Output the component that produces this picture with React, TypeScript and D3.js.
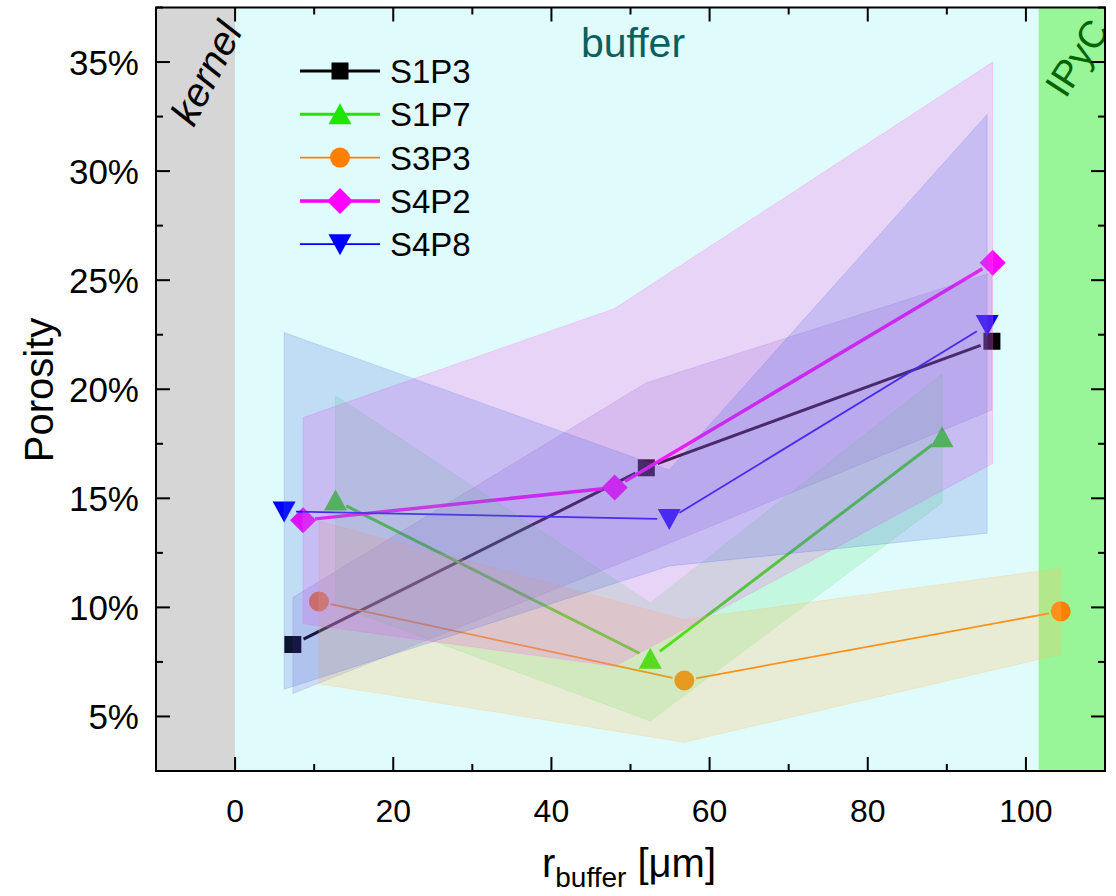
import React from 'react';
import * as d3 from 'd3';

const W = 1116;
const H = 896;
const FONT = "'Liberation Sans', Arial, Helvetica, sans-serif";

// axis domains and ticks
const xDomain = [-10, 110];
const yDomain = [2.5, 37.5];
const xMajorTicks = [0, 20, 40, 60, 80, 100];
const xMinorTicks = [-10, 10, 30, 50, 70, 90, 110];
const yMajorTicks = [5, 10, 15, 20, 25, 30, 35];
const yMinorTicks = [2.5, 7.5, 12.5, 17.5, 22.5, 27.5, 32.5, 37.5];

// regions (µm)
const regionNames = ['kernel', 'buffer', 'IPyC'];
const regionStart = [-10, 0, 101.6];
const regionEnd = [0, 101.6, 110];

// series
const seriesNames = ['S1P3', 'S1P7', 'S3P3', 'S4P2', 'S4P8'];

const s1p3X = [7.3, 52.0, 95.7];
const s1p3Y = [8.3, 16.4, 22.2];
const s1p3Upper = [10.45, 20.3, 25.35];
const s1p3Lower = [6.05, 12.5, 19.05];

const s1p7X = [12.7, 52.5, 89.4];
const s1p7Y = [14.9, 7.65, 17.8];
const s1p7Upper = [19.7, 10.2, 20.7];
const s1p7Lower = [10.1, 4.8, 14.8];

const s3p3X = [10.6, 56.8, 104.4];
const s3p3Y = [10.27, 6.65, 9.82];
const s3p3Upper = [13.95, 9.45, 11.8];
const s3p3Lower = [6.5, 3.82, 7.85];

const s4p2X = [8.6, 48.0, 95.8];
const s4p2Y = [14.0, 15.5, 25.8];
const s4p2Upper = [18.7, 23.7, 35.0];
const s4p2Lower = [9.25, 7.3, 16.6];

const s4p8X = [6.2, 54.9, 95.1];
const s4p8Y = [14.4, 14.05, 22.95];
const s4p8Upper = [22.6, 16.3, 32.6];
const s4p8Lower = [6.25, 11.9, 13.4];

const seriesColors = ['#000000', '#1ee600', '#ff8000', '#ff00ff', '#0000ff'];
const lineWidths = [3, 3, 1.8, 3.5, 1.8];
const markerKinds = ['square', 'triangleUp', 'circle', 'diamond', 'triangleDown'];
const bandFills = ['rgb(80,30,190)', 'rgb(20,230,60)', 'rgb(255,190,100)', 'rgb(255,100,235)', 'rgb(70,100,225)'];
const bandOpacity = [0.14, 0.14, 0.25, 0.26, 0.2];

const seriesX = [s1p3X, s1p7X, s3p3X, s4p2X, s4p8X];
const seriesY = [s1p3Y, s1p7Y, s3p3Y, s4p2Y, s4p8Y];
const seriesUpper = [s1p3Upper, s1p7Upper, s3p3Upper, s4p2Upper, s4p8Upper];
const seriesLower = [s1p3Lower, s1p7Lower, s3p3Lower, s4p2Lower, s4p8Lower];

const PL = 156, PR = 1105, PT = 7.5, PB = 771;

const x = d3.scaleLinear().domain(xDomain).range([PL, PR]);
const y = d3.scaleLinear().domain(yDomain).range([PB, PT]);

function markerPath(kind: string): string {
  switch (kind) {
    case 'square':
      return 'M-8.5,-8.5H8.5V8.5H-8.5Z';
    case 'triangleUp':
      return 'M0,-11L11.5,10L-11.5,10Z';
    case 'triangleDown':
      return 'M0,11L11.5,-10L-11.5,-10Z';
    case 'diamond':
      return 'M0,-13L13,0L0,13L-13,0Z';
    case 'circle':
    default:
      return d3.symbol().type(d3.symbolCircle).size(Math.PI * 100)() || '';
  }
}

function gappedSegments(px: number[], py: number[], gap: number) {
  const segs: [number, number, number, number][] = [];
  for (let i = 0; i < px.length - 1; i++) {
    const x0 = px[i], y0 = py[i], x1 = px[i + 1], y1 = py[i + 1];
    const dx = x1 - x0, dy = y1 - y0;
    const L = Math.hypot(dx, dy);
    if (L <= 2 * gap) continue;
    const ux = dx / L, uy = dy / L;
    segs.push([x0 + ux * gap, y0 + uy * gap, x1 - ux * gap, y1 - uy * gap]);
  }
  return segs;
}

export default function App() {
  const legendX = 300;
  const legendY0 = 71;
  const legendStep = 43.3;

  return (
    <svg
      width={W}
      height={H}
      viewBox={`0 0 ${W} ${H}`}
      style={{ position: 'absolute', left: 0, top: 0, background: '#ffffff' }}
      fontFamily={FONT}
    >
      <defs>
        <clipPath id="plotClip">
          <rect x={PL} y={PT} width={PR - PL} height={PB - PT} />
        </clipPath>
      </defs>

      {/* background regions */}
      <g clipPath="url(#plotClip)">
        {regionNames.map((r, i) => (
          <rect
            key={r}
            x={x(regionStart[i])}
            y={PT}
            width={x(regionEnd[i]) - x(regionStart[i])}
            height={PB - PT}
            fill={i === 0 ? '#d6d6d6' : i === 1 ? '#e0fbfb' : '#98f598'}
          />
        ))}
      </g>

      {/* lines and markers */}
      <g clipPath="url(#plotClip)">
        {seriesNames.map((name, si) => {
          const px = seriesX[si].map((v) => x(v));
          const py = seriesY[si].map((v) => y(v));
          const segs = gappedSegments(px, py, 12);
          return (
            <g key={name}>
              {segs.map((s, k) => (
                <line
                  key={k}
                  x1={s[0]}
                  y1={s[1]}
                  x2={s[2]}
                  y2={s[3]}
                  stroke={seriesColors[si]}
                  strokeWidth={lineWidths[si]}
                />
              ))}
              {px.map((cx, k) => (
                <path
                  key={'m' + k}
                  d={markerPath(markerKinds[si])}
                  transform={`translate(${cx},${py[k]})`}
                  fill={seriesColors[si]}
                />
              ))}
            </g>
          );
        })}
      </g>

      {/* translucent bands (drawn over the lines, as in the reference) */}
      <g clipPath="url(#plotClip)">
        {seriesNames.map((name, si) => {
          const xs = seriesX[si];
          const up = seriesUpper[si];
          const lo = seriesLower[si];
          const idx = xs.map((_, i) => i);
          const area = d3
            .area<number>()
            .x((i) => x(xs[i]))
            .y0((i) => y(lo[i]))
            .y1((i) => y(up[i]));
          return (
            <path
              key={'band' + name}
              d={area(idx) || ''}
              fill={bandFills[si]}
              fillOpacity={bandOpacity[si]}
              stroke={bandFills[si]}
              strokeOpacity={bandOpacity[si] * 0.9}
              strokeWidth={1}
            />
          );
        })}
      </g>

      {/* region labels */}
      <text
        x={0}
        y={0}
        transform={`translate(206,73) rotate(-63)`}
        textAnchor="middle"
        dominantBaseline="central"
        fontSize={40}
        fontStyle="italic"
        fill="#000"
      >
        {regionNames[0]}
      </text>
      <text x={633} y={57} textAnchor="middle" fontSize={41} fill="#0a5f5f">
        {regionNames[1]}
      </text>
      <g clipPath="url(#plotClip)">
        <text
          x={0}
          y={0}
          transform={`translate(1077,58) rotate(-57)`}
          textAnchor="middle"
          dominantBaseline="central"
          fontSize={38}
          fill="#006400"
        >
          {regionNames[2]}
        </text>
      </g>

      {/* legend */}
      <g>
        {seriesNames.map((name, si) => {
          const ly = legendY0 + si * legendStep;
          return (
            <g key={'leg' + name}>
              <line
                x1={legendX}
                x2={legendX + 80}
                y1={ly}
                y2={ly}
                stroke={seriesColors[si]}
                strokeWidth={lineWidths[si]}
              />
              <path
                d={markerPath(markerKinds[si])}
                transform={`translate(${legendX + 40},${ly})`}
                fill={seriesColors[si]}
              />
              <text x={legendX + 90} y={ly + 12} fontSize={33} fill="#000">
                {name}
              </text>
            </g>
          );
        })}
      </g>

      {/* frame */}
      <rect x={PL} y={PT} width={PR - PL} height={PB - PT} fill="none" stroke="#000" strokeWidth={2} />

      {/* ticks */}
      <g stroke="#000" strokeWidth={2}>
        {xMajorTicks.map((t) => (
          <g key={'xM' + t}>
            <line x1={x(t)} x2={x(t)} y1={PB} y2={PB - 14} />
            <line x1={x(t)} x2={x(t)} y1={PT} y2={PT + 14} />
          </g>
        ))}
        {xMinorTicks.map((t) => (
          <g key={'xm' + t}>
            <line x1={x(t)} x2={x(t)} y1={PB} y2={PB - 7} />
            <line x1={x(t)} x2={x(t)} y1={PT} y2={PT + 7} />
          </g>
        ))}
        {yMajorTicks.map((t) => (
          <g key={'yM' + t}>
            <line x1={PL} x2={PL + 14} y1={y(t)} y2={y(t)} />
            <line x1={PR} x2={PR - 14} y1={y(t)} y2={y(t)} />
          </g>
        ))}
        {yMinorTicks.map((t) => (
          <g key={'ym' + t}>
            <line x1={PL} x2={PL + 7} y1={y(t)} y2={y(t)} />
            <line x1={PR} x2={PR - 7} y1={y(t)} y2={y(t)} />
          </g>
        ))}
      </g>

      {/* tick labels */}
      <g fill="#000">
        {xMajorTicks.map((t) => (
          <text key={'xl' + t} x={x(t)} y={822} textAnchor="middle" fontSize={32}>
            {t}
          </text>
        ))}
        {yMajorTicks.map((t) => (
          <text key={'yl' + t} x={139} y={y(t)} textAnchor="end" dominantBaseline="central" fontSize={35}>
            {`${t}%`}
          </text>
        ))}
      </g>

      {/* axis titles */}
      <text
        transform={`translate(53,390) rotate(-90)`}
        textAnchor="middle"
        fontSize={40}
        fill="#000"
      >
        Porosity
      </text>
      <text x={629} y={877} textAnchor="middle" fontSize={40} fill="#000">
        <tspan>r</tspan>
        <tspan fontSize={28} dy={10}>buffer</tspan>
        <tspan dy={-10}> [μm]</tspan>
      </text>
    </svg>
  );
}
